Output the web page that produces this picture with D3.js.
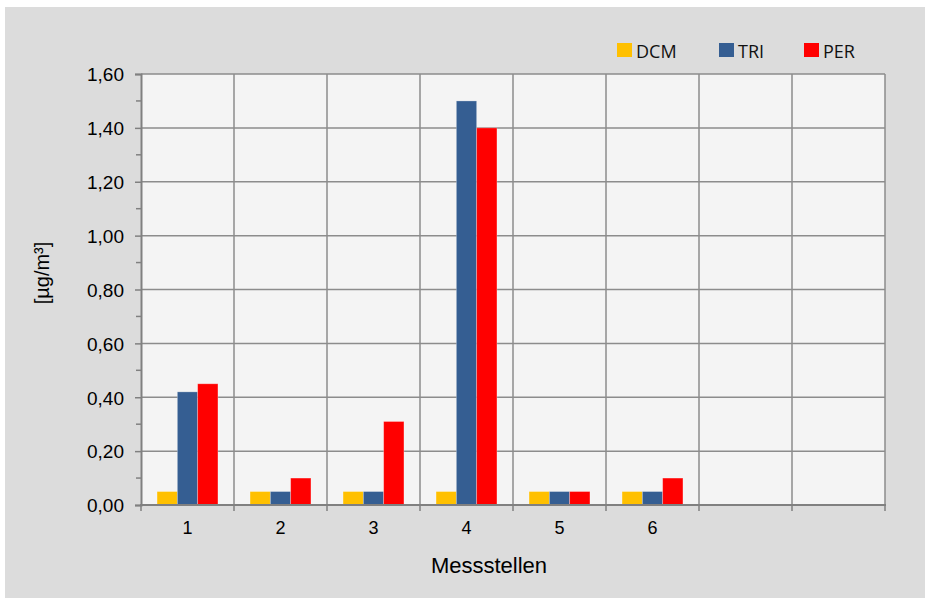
<!DOCTYPE html>
<html>
<head>
<meta charset="utf-8">
<script src="https://cdn.jsdelivr.net/npm/d3@7"></script>
<style>
  html, body { margin: 0; padding: 0; background: #ffffff; }
  svg { display: block; }
</style>
</head>
<body>
<svg id="chart" width="931" height="603"></svg>
<script>
// Measuring points (the last two have no readings yet)
const categories = ["1", "2", "3", "4", "5", "6", "", " "];
const seriesNames = ["DCM", "TRI", "PER"];
const seriesColors = ["#ffc000", "#355e92", "#ff0000"];
const dcmValues = [0.05, 0.05, 0.05, 0.05, 0.05, 0.05, null, null];
const triValues = [0.42, 0.05, 0.05, 1.50, 0.05, 0.05, null, null];
const perValues = [0.45, 0.10, 0.31, 1.40, 0.05, 0.10, null, null];
const yTicks = [0, 0.2, 0.4, 0.6, 0.8, 1.0, 1.2, 1.4, 1.6];
const yMinorTicks = [0.1, 0.3, 0.5, 0.7, 0.9, 1.1, 1.3, 1.5];

const series = [dcmValues, triValues, perValues];

const svg = d3.select("#chart");
const axisFont = "'Liberation Sans', Arial, sans-serif";

// Outer chart panel
svg.append("rect")
  .attr("x", 5).attr("y", 7)
  .attr("width", 920).attr("height", 591)
  .attr("fill", "#dcdcdc");

const plot = { left: 141, top: 74, right: 885, bottom: 505 };

const x = d3.scaleBand()
  .domain(categories)
  .range([plot.left, plot.right])
  .paddingInner(0).paddingOuter(0);

const xInner = d3.scaleBand()
  .domain(seriesNames)
  .range([0, x.bandwidth()])
  .paddingOuter(0.79).paddingInner(0);

const y = d3.scaleLinear().domain([0, 1.6]).range([plot.bottom, plot.top]);

// Plot background
svg.append("rect")
  .attr("x", plot.left).attr("y", plot.top)
  .attr("width", plot.right - plot.left).attr("height", plot.bottom - plot.top)
  .attr("fill", "#f4f4f4");

const gridColor = "#8c8c8c";

// Horizontal gridlines
svg.append("g")
  .selectAll("line")
  .data(yTicks.filter(d => d > 0))
  .join("line")
  .attr("x1", plot.left).attr("x2", plot.right)
  .attr("y1", d => y(d)).attr("y2", d => y(d))
  .attr("stroke", gridColor).attr("stroke-width", 1.5);

// Vertical gridlines at category boundaries
const boundaries = categories.map(c => x(c)).slice(1).concat([plot.right]);
svg.append("g")
  .selectAll("line")
  .data(boundaries)
  .join("line")
  .attr("x1", d => d).attr("x2", d => d)
  .attr("y1", plot.top).attr("y2", plot.bottom)
  .attr("stroke", gridColor).attr("stroke-width", 1.5);

// Bars
const groups = svg.append("g")
  .selectAll("g")
  .data(categories)
  .join("g")
  .attr("transform", c => `translate(${x(c)},0)`);

groups.selectAll("rect")
  .data((c, i) => seriesNames.map((s, j) => ({ s, j, v: series[j][i] })).filter(d => d.v != null))
  .join("rect")
  .attr("x", d => xInner(d.s))
  .attr("width", xInner.bandwidth())
  .attr("y", d => y(d.v))
  .attr("height", d => y(0) - y(d.v))
  .attr("fill", d => seriesColors[d.j])
  .attr("stroke", "rgba(255,255,255,0.35)")
  .attr("stroke-width", 0.8);

// Y axis with major and minor ticks
const yAxis = d3.axisLeft(y)
  .tickValues(yTicks)
  .tickSize(6)
  .tickPadding(11)
  .tickFormat(d => d3.format(".2f")(d).replace(".", ","));

const yg = svg.append("g")
  .attr("transform", `translate(${plot.left},0)`)
  .call(yAxis);
yg.select(".domain").attr("stroke", "#808080").attr("stroke-width", 2);
yg.selectAll(".tick line").attr("stroke", "#808080").attr("stroke-width", 1.5);
yg.selectAll(".tick text")
  .attr("font-family", axisFont)
  .attr("font-size", 19).attr("fill", "#000")
  .attr("dy", "0.36em");

svg.append("g")
  .selectAll("line")
  .data(yMinorTicks)
  .join("line")
  .attr("x1", plot.left - 5).attr("x2", plot.left)
  .attr("y1", d => y(d)).attr("y2", d => y(d))
  .attr("stroke", "#808080").attr("stroke-width", 1.5);

// X axis: line, boundary ticks, centered labels
svg.append("line")
  .attr("x1", plot.left - 1).attr("x2", plot.right + 1)
  .attr("y1", plot.bottom).attr("y2", plot.bottom)
  .attr("stroke", "#808080").attr("stroke-width", 2);

svg.append("g")
  .selectAll("line")
  .data([plot.left].concat(boundaries))
  .join("line")
  .attr("x1", d => d).attr("x2", d => d)
  .attr("y1", plot.bottom).attr("y2", plot.bottom + 6)
  .attr("stroke", "#808080").attr("stroke-width", 1.5);

svg.append("g")
  .selectAll("text")
  .data(categories)
  .join("text")
  .attr("x", c => x(c) + x.bandwidth() / 2)
  .attr("y", 534)
  .attr("text-anchor", "middle")
  .attr("font-family", axisFont)
  .attr("font-size", 18)
  .text(c => c.trim());

// Axis titles
svg.append("text")
  .attr("x", 489)
  .attr("y", 573)
  .attr("text-anchor", "middle")
  .attr("font-family", axisFont)
  .attr("font-size", 22)
  .text("Messstellen");

svg.append("text")
  .attr("transform", "translate(49,273) rotate(-90)")
  .attr("text-anchor", "middle")
  .attr("font-family", axisFont)
  .attr("font-size", 20)
  .text("[µg/m³]");

// Legend
const legendX = [617, 719, 804];
const legend = svg.append("g")
  .selectAll("g")
  .data(seriesNames)
  .join("g")
  .attr("transform", (d, i) => `translate(${legendX[i]},43)`);
legend.append("rect")
  .attr("width", 15).attr("height", 14)
  .attr("fill", (d, i) => seriesColors[i]);
legend.append("text")
  .attr("x", 19).attr("y", 14.5)
  .attr("font-family", "'Open Sans', Lato, sans-serif")
  .attr("font-size", 18)
  .attr("fill", "#111")
  .text(d => d);
</script>
</body>
</html>
